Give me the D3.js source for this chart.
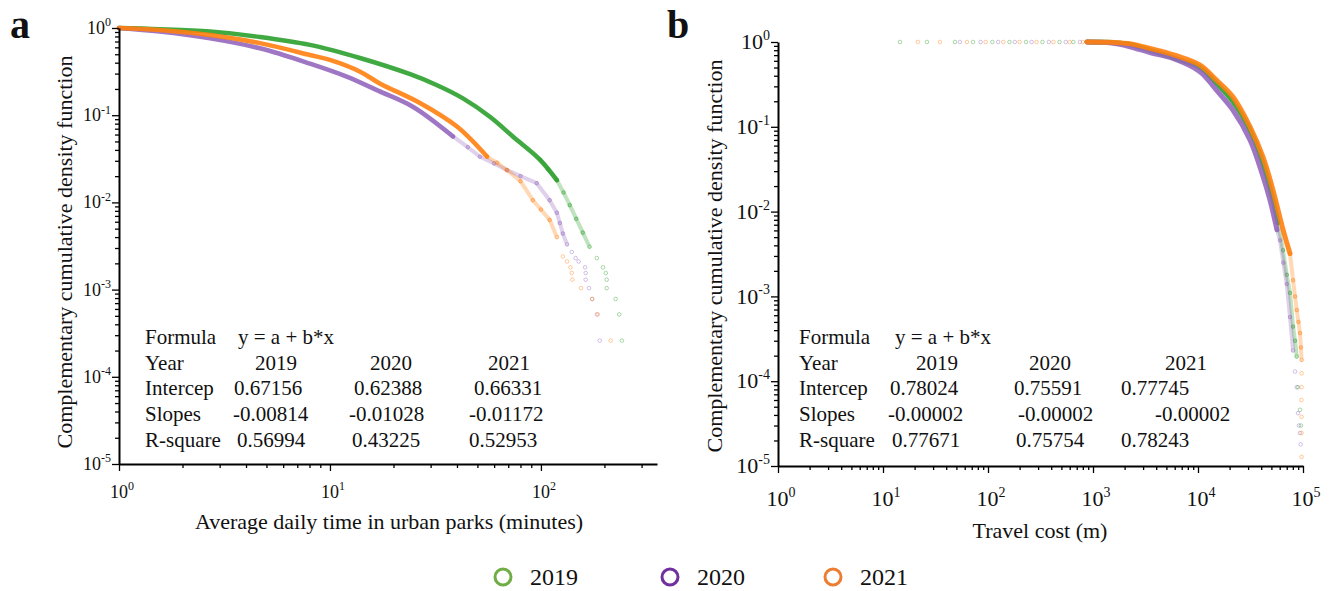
<!DOCTYPE html>
<html>
<head>
<meta charset="utf-8">
<script src="https://cdn.jsdelivr.net/npm/d3@7"></script>
<style>
  body { margin: 0; background: #fff; }
  text { font-family: "Liberation Serif", "Times New Roman", serif; fill: #111; }
</style>
</head>
<body>
<script>
// ---- data ----
const years = ["2019", "2020", "2021"];
const seriesColors = ["#2ca02c", "#9467bd", "#ff7f0e"];
const legendColors = ["#70ad47", "#7030a0", "#ed7d31"];

// panel a : average daily time in urban parks (minutes)
const a2019BandX = [1, 1.56, 2.7, 4.66, 8.04, 14, 24, 32, 42.7, 57.3, 73.6, 98.9, 119];
const a2019BandY = [1, 0.97, 0.91, 0.79, 0.64, 0.45, 0.295, 0.222, 0.156, 0.096, 0.057, 0.031, 0.018];
const a2019DotX = [98.9, 108, 119, 128, 137, 147, 158, 170, 184, 197, 203, 205, 205, 226, 235, 242];
const a2019DotY = [0.031, 0.024, 0.018, 0.013, 0.0093, 0.0065, 0.0045, 0.0031, 0.0023, 0.0018, 0.00155, 0.0013, 0.00104, 0.00078, 0.00052, 0.00026];

const a2020BandX = [1, 1.56, 2.7, 4.66, 8.04, 12, 17, 24.7, 38.3];
const a2020BandY = [1, 0.91, 0.76, 0.585, 0.39, 0.277, 0.19, 0.125, 0.057];
const a2020DotX = [38.3, 45, 51.4, 60, 69, 80, 95.5, 110, 119, 123, 127, 133, 140, 146, 151, 162, 163, 163, 169, 175, 184, 190];
const a2020DotY = [0.057, 0.043, 0.0334, 0.028, 0.0235, 0.02, 0.0166, 0.0106, 0.0076, 0.0058, 0.0044, 0.0033, 0.0027, 0.0023, 0.0021, 0.0018, 0.00155, 0.0013, 0.00104, 0.00078, 0.00052, 0.00026];

const a2021BandX = [1, 1.56, 2.7, 4.66, 8.04, 10, 13.9, 17.3, 26.7, 40, 55.5];
const a2021BandY = [1, 0.95, 0.83, 0.67, 0.49, 0.43, 0.315, 0.23, 0.138, 0.074, 0.0335];
const a2021DotX = [55.5, 62, 69, 80, 91.6, 100, 110, 119, 127, 133, 138, 140, 141, 155, 175, 186, 214];
const a2021DotY = [0.0335, 0.0285, 0.0235, 0.0175, 0.0106, 0.0083, 0.0063, 0.004, 0.0024, 0.0021, 0.0018, 0.00155, 0.0013, 0.00104, 0.00078, 0.00052, 0.00026];

// panel b : travel cost (m)
const b2019BandX = [877, 1500, 2300, 3490, 6000, 10450, 15000, 21500, 31300, 41600, 51800, 57800];
const b2019BandY = [0.998, 0.985, 0.93, 0.80, 0.64, 0.50, 0.326, 0.198, 0.091, 0.037, 0.0137, 0.0074];
const b2019DotX = [14.5, 26.2, 48.5, 72, 110, 160, 230, 330, 480, 650, 57800, 64500, 70000, 75200, 80400, 84000, 87200, 89600, 93600, 95500];
const b2019DotY = [1, 1, 1, 1, 1, 1, 1, 1, 1, 1, 0.0074, 0.0035, 0.0018, 0.0011, 0.00044, 0.0003, 0.000195, 0.000085, 0.000046, 0.00003];

const b2020BandX = [877, 1500, 2250, 3490, 5780, 10450, 15000, 21500, 31300, 41600, 48500, 56500];
const b2020BandY = [0.997, 0.97, 0.88, 0.75, 0.64, 0.447, 0.27, 0.158, 0.07, 0.026, 0.0137, 0.0061];
const b2020DotX = [54, 85, 125, 180, 260, 380, 550, 750, 56500, 60400, 65000, 70000, 75200, 80400, 84000, 87200, 89600, 91500, 93600, 95000];
const b2020DotY = [1, 1, 1, 1, 1, 1, 1, 1, 0.0061, 0.0046, 0.0025, 0.0014, 0.00057, 0.00023, 0.00013, 0.000085, 0.000042, 0.00003, 0.0000245, 0.000018];

const b2021BandX = [877, 1500, 2300, 3490, 6000, 10450, 15000, 21500, 31300, 41600, 50700, 57800, 64600, 75200];
const b2021BandY = [0.999, 0.99, 0.95, 0.84, 0.70, 0.535, 0.356, 0.226, 0.10, 0.044, 0.0197, 0.0105, 0.0061, 0.0032];
const b2021DotX = [21.5, 34.8, 63, 95, 140, 200, 290, 420, 600, 800, 75200, 80400, 84000, 87200, 90500, 93600, 95500, 97000, 97000, 97000, 96500, 97000, 97000, 97000];
const b2021DotY = [1, 1, 1, 1, 1, 1, 1, 1, 1, 1, 0.0032, 0.00155, 0.001, 0.00069, 0.0005, 0.00037, 0.00025, 0.000178, 0.000124, 0.000085, 0.00006, 0.000038, 0.0000245, 0.0000128];

// fit tables
const tableLabels = ["Formula", "Year", "Intercep", "Slopes", "R-square"];
const formulaText = "y = a + b*x";
const aIntercep = ["0.67156", "0.62388", "0.66331"];
const aSlopes = ["-0.00814", "-0.01028", "-0.01172"];
const aRsquare = ["0.56994", "0.43225", "0.52953"];
const bIntercep = ["0.78024", "0.75591", "0.77745"];
const bSlopes = ["-0.00002", "-0.00002", "-0.00002"];
const bRsquare = ["0.77671", "0.75754", "0.78243"];

// ---- drawing ----
const svg = d3.select("body").append("svg")
  .attr("width", 1333).attr("height", 591);

const isMajor = v => Math.abs(Math.log10(v) - Math.round(Math.log10(v))) < 1e-6;

function panel(cfg) {
  const x = d3.scaleLog().domain(cfg.xDomain).range(cfg.xRange);
  const y = d3.scaleLog().domain([1e-5, 1]).range(cfg.yRange);
  const g = svg.append("g");

  // series
  cfg.series.forEach((s, i) => {
    const col = seriesColors[i];
    const dots = d3.zip(s.dx, s.dy);
    // pale chain where the markers still overlap
    const inChain = v => v >= cfg.chainMin && v < cfg.chainTop;
    for (let k = 1; k < dots.length; k++) {
      const a = dots[k - 1], b = dots[k];
      const p0 = [x(a[0]), y(a[1])], p1 = [x(b[0]), y(b[1])];
      if (inChain(a[1]) && inChain(b[1]) &&
          Math.hypot(p1[0] - p0[0], p1[1] - p0[1]) < cfg.chainGap) {
        g.append("line")
          .attr("x1", p0[0]).attr("y1", p0[1]).attr("x2", p1[0]).attr("y2", p1[1])
          .attr("stroke", col).attr("stroke-opacity", 0.3)
          .attr("stroke-width", 4).attr("stroke-linecap", "round");
      }
    }
    g.selectAll(null).data(dots).join("circle")
      .attr("cx", d => x(d[0])).attr("cy", d => y(d[1]))
      .attr("r", 1.8).attr("fill", "none")
      .attr("stroke", col).attr("stroke-opacity", 0.4).attr("stroke-width", 1);

    g.append("path")
      .datum(d3.zip(s.bx, s.by))
      .attr("d", d3.line().x(d => x(d[0])).y(d => y(d[1])).curve(d3.curveCatmullRom))
      .attr("fill", "none").attr("stroke", col)
      .attr("stroke-width", cfg.bandWidth).attr("stroke-linecap", "round")
      .attr("stroke-opacity", 0.9);
  });

  // x axis
  const gx = svg.append("g").attr("transform", `translate(0,${cfg.yRange[0]})`)
    .call(d3.axisBottom(x).tickValues(x.ticks()).tickFormat("").tickSize(7).tickSizeOuter(0));
  gx.selectAll(".tick line").attr("y2", d => isMajor(d) ? 7 : 4).attr("stroke-width", 1.3);
  gx.select(".domain").attr("stroke-width", 2);

  // y axis
  const gy = svg.append("g").attr("transform", `translate(${cfg.xRange[0]},0)`)
    .call(d3.axisLeft(y).tickValues(y.ticks()).tickFormat("").tickSize(7).tickSizeOuter(0));
  gy.selectAll(".tick line").attr("x2", d => isMajor(d) ? -7 : -4).attr("stroke-width", 1.3);
  gy.select(".domain").attr("stroke-width", 2);

  // tick labels 10^n
  const fs = cfg.tickFont, sup = Math.round(cfg.tickFont * 0.65);
  x.ticks().filter(isMajor).forEach(v => {
    const t = svg.append("text").attr("x", x(v) + 3).attr("y", cfg.xLabelY)
      .attr("text-anchor", "middle").style("font-size", fs + "px");
    t.append("tspan").text("10");
    t.append("tspan").attr("dy", -fs * 0.42).style("font-size", sup + "px").text(Math.round(Math.log10(v)));
  });
  y.ticks().filter(isMajor).forEach(v => {
    const t = svg.append("text").attr("x", cfg.xRange[0] - 8).attr("y", y(v) + fs * 0.33)
      .attr("text-anchor", "end").style("font-size", fs + "px");
    t.append("tspan").text("10");
    t.append("tspan").attr("dy", -fs * 0.42).style("font-size", sup + "px").text(Math.round(Math.log10(v)));
  });

  // titles
  svg.append("text").attr("x", cfg.xTitleX).attr("y", cfg.xTitleY)
    .attr("text-anchor", "middle").style("font-size", "22px").text(cfg.xTitle);
  svg.append("text")
    .attr("transform", `translate(${cfg.yTitleX},${cfg.yTitleY}) rotate(-90)`)
    .attr("text-anchor", "middle").style("font-size", "22px")
    .text("Complementary cumulative density function");
  svg.append("text").attr("x", cfg.letterX).attr("y", cfg.letterY)
    .style("font-size", "40px").style("font-weight", "bold").text(cfg.letter);

  // fit table
  const rowY = [344, 370, 395, 421, 447];
  tableLabels.forEach((l, r) => {
    svg.append("text").attr("x", cfg.tableX).attr("y", rowY[r]).style("font-size", "21px").text(l);
  });
  svg.append("text").attr("x", cfg.formulaX).attr("y", rowY[0]).style("font-size", "21px").text(formulaText);
  [years, cfg.intercep, cfg.slopes, cfg.rsq].forEach((row, r) => {
    row.forEach((v, c) => {
      svg.append("text").attr("x", cfg.colX[r][c]).attr("y", rowY[r + 1])
        .style("font-size", "21px").text(v);
    });
  });
}

panel({
  letter: "a", letterX: 10, letterY: 38,
  xDomain: [1, 355], xRange: [119, 657], yRange: [464, 28],
  bandWidth: 4.5, tickFont: 18, xLabelY: 498,
  chainMin: 0.0028, chainTop: 2, chainGap: 30,
  xTitle: "Average daily time in urban parks (minutes)", xTitleX: 389, xTitleY: 529,
  yTitleX: 72, yTitleY: 252,
  series: [
    { bx: a2019BandX, by: a2019BandY, dx: a2019DotX, dy: a2019DotY },
    { bx: a2020BandX, by: a2020BandY, dx: a2020DotX, dy: a2020DotY },
    { bx: a2021BandX, by: a2021BandY, dx: a2021DotX, dy: a2021DotY }
  ],
  tableX: 145, formulaX: 238,
  colX: [[255, 370, 488], [234, 354, 474], [233, 349, 469], [237, 352, 469]],
  intercep: aIntercep, slopes: aSlopes, rsq: aRsquare
});

panel({
  letter: "b", letterX: 667, letterY: 38,
  xDomain: [1, 1e5], xRange: [778, 1303], yRange: [466, 42],
  bandWidth: 5, tickFont: 22, xLabelY: 506,
  chainMin: 0.00015, chainTop: 0.999, chainGap: 40,
  xTitle: "Travel cost (m)", xTitleX: 1040, xTitleY: 538,
  yTitleX: 722, yTitleY: 256,
  series: [
    { bx: b2019BandX, by: b2019BandY, dx: b2019DotX, dy: b2019DotY },
    { bx: b2020BandX, by: b2020BandY, dx: b2020DotX, dy: b2020DotY },
    { bx: b2021BandX, by: b2021BandY, dx: b2021DotX, dy: b2021DotY }
  ],
  tableX: 799, formulaX: 895,
  colX: [[916, 1029, 1165], [890, 1014, 1121], [888, 1018, 1155], [892, 1016, 1121]],
  intercep: bIntercep, slopes: bSlopes, rsq: bRsquare
});

// legend
const legendX = [503, 670, 833];
years.forEach((yr, i) => {
  svg.append("circle").attr("cx", legendX[i]).attr("cy", 577).attr("r", 8)
    .attr("fill", "none").attr("stroke", legendColors[i]).attr("stroke-width", 3);
  svg.append("text").attr("x", legendX[i] + 27).attr("y", 585)
    .style("font-size", "24px").text(yr);
});
</script>
</body>
</html>
